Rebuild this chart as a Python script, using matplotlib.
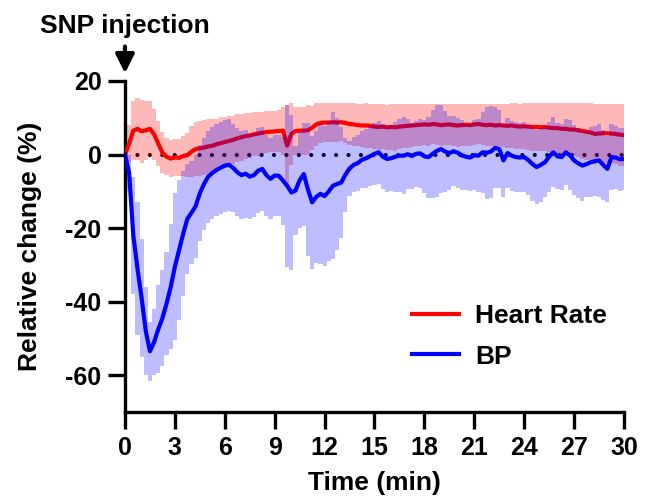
import matplotlib.pyplot as plt
import numpy as np

plt.rcParams['font.family'] = ['Liberation Sans', 'DejaVu Sans']
plt.rcParams['font.weight'] = 'bold'
plt.rcParams['axes.unicode_minus'] = False

# time grid (min), one value every 15 s
time_min = np.arange(0, 30.01, 0.25)

# heart rate, mean and sd (% change)
hr_mean = [0, 3.0, 6.5, 7.0, 6.3, 6.6, 7.0, 5.5, 3.0, 0.5, -0.6, -1.1,
           -0.8, -0.9, -0.4, -0.2, 0.8, 1.5, 1.7, 1.9, 2.2, 2.4, 2.8, 3.1,
           3.4, 3.7, 4.0, 4.4, 4.7, 5.0, 5.2, 5.5, 5.7, 5.9, 6.1, 6.2,
           6.3, 6.4, 6.5, 2.4, 5.6, 6.4, 6.5, 6.5, 6.6, 7.3, 8.2, 8.6,
           8.7, 8.7, 8.8, 8.7, 8.8, 8.6, 8.3, 8.2, 8.0, 7.9, 7.9, 7.8,
           7.6, 7.5, 7.6, 7.4, 7.5, 7.4, 7.6, 7.7, 7.8, 7.9, 8.0, 8.1,
           8.2, 8.1, 8.3, 8.2, 8.0, 8.1, 8.2, 8.0, 7.9, 8.0, 8.1, 8.0,
           8.2, 8.3, 8.1, 8.0, 8.1, 7.9, 8.0, 7.9, 7.8, 7.9, 7.7, 7.6,
           7.7, 7.6, 7.5, 7.5, 7.4, 7.5, 7.3, 7.2, 7.2, 7.0, 7.0, 6.8,
           6.8, 6.6, 6.4, 6.2, 6.0, 5.6, 5.7, 5.8, 5.8, 5.7, 5.6, 5.4,
           5.3]
hr_sd = [0, 5.0, 8.0, 8.5, 8.5, 8.0, 7.5, 7.0, 6.0, 5.5, 5.0, 5.0,
         5.0, 5.0, 5.5, 6.0, 7.0, 7.3, 7.5, 7.5, 7.5, 7.3, 7.0, 7.0,
         6.8, 6.8, 6.6, 6.5, 6.4, 6.3, 6.2, 6.0, 6.0, 5.8, 5.7, 5.6,
         5.6, 5.8, 6.5, 11.0, 8.5, 6.5, 6.5, 6.5, 6.8, 6.0, 5.8, 5.5,
         5.4, 5.4, 5.3, 5.4, 5.2, 5.4, 5.6, 5.8, 5.8, 5.9, 6.0, 6.0,
         6.2, 6.2, 6.1, 6.2, 6.2, 6.3, 6.2, 6.0, 5.9, 5.9, 5.8, 5.7,
         5.6, 5.7, 5.5, 5.6, 5.7, 5.6, 5.6, 5.7, 5.8, 5.8, 5.7, 5.8,
         5.6, 5.5, 5.6, 5.8, 5.7, 5.9, 5.8, 5.9, 6.0, 6.0, 6.2, 6.2,
         6.2, 6.3, 6.4, 6.4, 6.5, 6.4, 6.6, 6.7, 6.7, 6.9, 6.9, 7.1,
         7.1, 7.3, 7.5, 7.7, 7.9, 8.2, 8.1, 8.0, 8.0, 8.1, 8.2, 8.4,
         8.4]

# blood pressure, mean and sd (% change)
bp_mean = [0, -5.0, -22.0, -31.0, -39.0, -48.0, -53.5, -51.0, -47.5, -44.5, -40.5, -36.0,
           -30.5, -26.0, -21.5, -17.5, -15.8, -14.0, -10.5, -8.0, -6.0, -5.0, -4.2, -3.6,
           -3.0, -2.8, -3.6, -4.8, -5.6, -5.2, -6.0, -5.6, -4.4, -3.9, -5.6, -6.6,
           -5.7, -5.8, -7.1, -8.5, -10.3, -9.8, -7.0, -5.3, -9.5, -13.0, -11.5, -10.7,
           -11.3, -10.0, -8.5, -8.0, -7.6, -5.5, -3.8, -2.8, -2.3, -1.4, -1.0, -0.4,
           0.2, 0.6, -0.6, -1.2, -1.0, -0.6, -0.3, -0.3, 0.1, -0.4, 0.2, 0.3,
           -0.5, -0.7, 0.2, 1.0, 1.5, 0.8, 0.4, 0.9, 0.5, -0.2, -0.6, -0.8,
           -0.2, -0.3, 0.6, 0.5, 0.8, 1.8, 1.5, -1.6, 0.4, -0.3, -0.7, -0.8,
           -0.7, -1.5, -2.6, -3.4, -2.8, -2.1, -0.6, 0.6, -0.5, -0.7, 0.6, -0.2,
           -1.6, -2.4, -3.0, -2.6, -2.1, -1.8, -1.6, -2.8, -3.9, -0.7, -0.8, -1.3,
           -1.2]
bp_sd = [0, 5.0, 16.0, 18.0, 16.0, 12.0, 8.0, 9.0, 12.0, 13.0, 14.0, 17.0,
         20.0, 19.0, 17.0, 15.0, 14.0, 14.0, 13.0, 12.5, 12.5, 12.5, 12.5, 12.5,
         12.5, 12.5, 12.0, 12.0, 12.0, 12.0, 11.5, 11.5, 11.5, 11.5, 11.0, 11.0,
         11.0, 11.0, 12.0, 22.0, 21.0, 12.0, 13.0, 14.0, 18.0, 18.0, 18.0, 19.0,
         19.0, 19.0, 20.0, 18.0, 15.0, 10.0, 7.5, 7.5, 7.5, 7.8, 8.0, 8.2,
         8.5, 8.6, 8.8, 9.0, 9.0, 9.5, 10.0, 10.5, 9.5, 9.0, 9.0, 9.5,
         10.0, 11.0, 12.0, 12.5, 12.0, 11.0, 10.0, 9.5, 9.5, 9.5, 9.0, 9.0,
         9.5, 10.0, 11.0, 12.5, 12.5, 11.0, 10.5, 10.0, 9.5, 9.5, 9.5, 9.5,
         9.5, 9.5, 10.0, 10.0, 10.0, 9.5, 9.5, 9.5, 9.0, 9.0, 9.0, 9.5,
         9.5, 9.5, 9.5, 9.0, 9.5, 9.5, 10.0, 9.5, 9.0, 9.0, 8.5, 8.5,
         8.5]

x_ticks = [0, 3, 6, 9, 12, 15, 18, 21, 24, 27, 30]
y_ticks = [20, 0, -20, -40, -60]

hr_mean = np.array(hr_mean)
hr_sd = np.array(hr_sd)
bp_mean = np.array(bp_mean)
bp_sd = np.array(bp_sd)

fig = plt.figure(figsize=(6.51, 4.96), dpi=100)
ax = fig.add_axes([0.192, 0.1694, 0.7665, 0.6673])

# baseline dots
ax.plot([0, 30], [0, 0], color='black', lw=3, ls=(0, (0.01, 2.97)),
        dash_capstyle='round', zorder=1)

# heart rate
ax.fill_between(time_min, hr_mean - hr_sd, hr_mean + hr_sd, step='mid',
                color='red', alpha=0.28, lw=0, zorder=2)
ax.plot(time_min, hr_mean, color='red', lw=3, label='Heart Rate', zorder=3)

# blood pressure
ax.fill_between(time_min, bp_mean - bp_sd, bp_mean + bp_sd, step='mid',
                color='blue', alpha=0.26, lw=0, zorder=4)
ax.plot(time_min, bp_mean, color='blue', lw=3, label='BP', zorder=5)

ax.set_xlim(0, 30)
ax.set_ylim(-70, 20)
ax.set_xticks(x_ticks)
ax.set_yticks(y_ticks)
ax.tick_params(width=2.4, length=12, labelsize=18, pad=5)
for s in ['top', 'right']:
    ax.spines[s].set_visible(False)
for s in ['left', 'bottom']:
    ax.spines[s].set_linewidth(2.4)

ax.set_xlabel('Time (min)', fontsize=19, fontweight='bold', labelpad=8)
ax.set_ylabel('Relative change (%)', fontsize=19, fontweight='bold', labelpad=17)

ax.annotate('SNP injection', xy=(0, 22.1), xytext=(0, 33.0), textcoords='data',
            ha='center', va='baseline', fontsize=19, fontweight='bold',
            annotation_clip=False,
            arrowprops=dict(arrowstyle='-|>', color='black', lw=3,
                            mutation_scale=28, shrinkA=4, shrinkB=0))

ax.legend(loc='center left', bbox_to_anchor=(0.575, 0.228), frameon=False,
          fontsize=19, handlelength=1.8, handletextpad=0.6, labelspacing=0.62,
          borderpad=0, borderaxespad=0)

plt.savefig('out.png', dpi=100)
